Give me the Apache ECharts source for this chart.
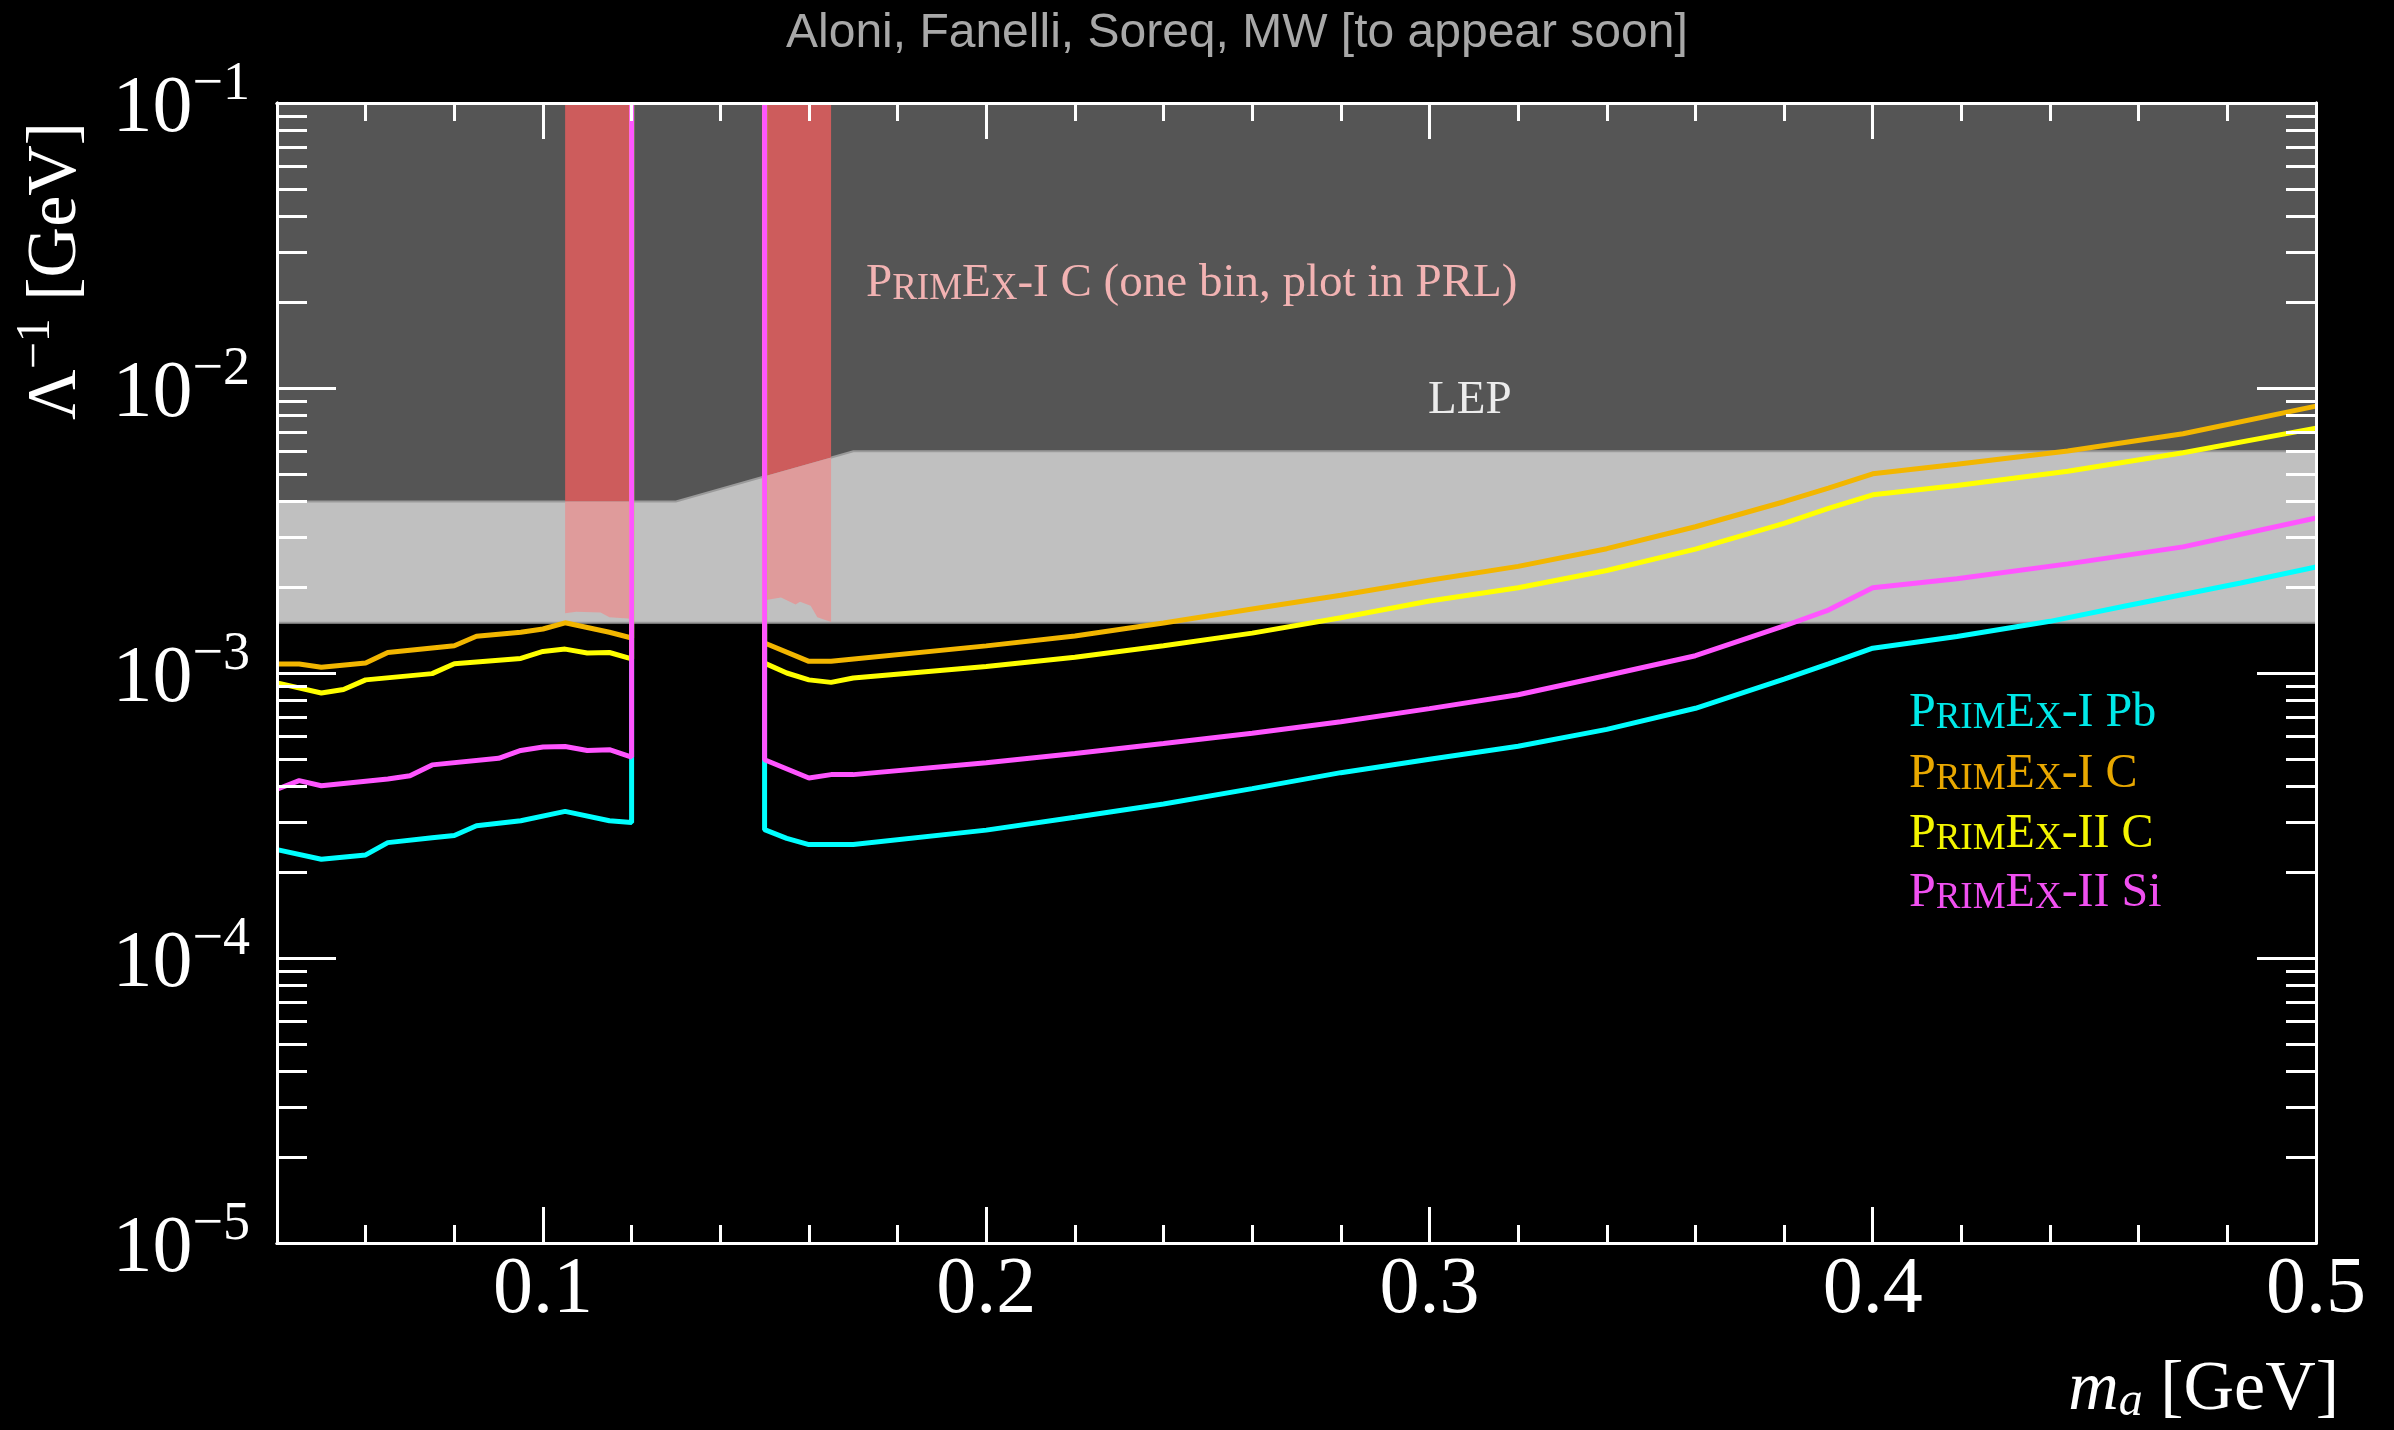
<!DOCTYPE html>
<html>
<head>
<meta charset="utf-8">
<title>PrimEx ALP reach</title>
<script src="https://cdn.jsdelivr.net/npm/echarts@6.0.0/dist/echarts.min.js"></script>
<style>
    html, body { margin: 0; padding: 0; background: #000; }
    #main { width: 2394px; height: 1430px; }
</style>
</head>
<body>
<div id="main"></div>
<script>
    // axis ticks
    var xMajorTicks = [0.1, 0.2, 0.3, 0.4, 0.5];
    var xMinorTicks = [0.06, 0.08, 0.12, 0.14, 0.16, 0.18, 0.22, 0.24, 0.26, 0.28,
                       0.32, 0.34, 0.36, 0.38, 0.42, 0.44, 0.46, 0.48];
    var yMajorTicks = [1e-5, 1e-4, 1e-3, 1e-2, 1e-1];
    var yMinorTicks = [];
    [1e-5, 1e-4, 1e-3, 1e-2].forEach(function (d) {
        for (var m = 2; m <= 9; m++) yMinorTicks.push(m * d);
    });

    // curves: [m_a GeV, 1/Lambda GeV^-1]
    var pbLeft = [[0.04, 2.40e-4], [0.05, 2.22e-4], [0.06, 2.30e-4], [0.065, 2.54e-4], [0.075, 2.64e-4],
                  [0.08, 2.69e-4], [0.085, 2.91e-4], [0.095, 3.03e-4], [0.105, 3.27e-4], [0.115, 3.03e-4],
                  [0.12, 2.99e-4], [0.12, 0.1]];
    var pbRight = [[0.15, 0.1], [0.15, 2.82e-4], [0.155, 2.63e-4], [0.16, 2.50e-4], [0.17, 2.50e-4],
                   [0.2, 2.81e-4], [0.22, 3.12e-4], [0.24, 3.47e-4], [0.26, 3.93e-4], [0.28, 4.47e-4],
                   [0.3, 4.98e-4], [0.32, 5.53e-4], [0.34, 6.34e-4], [0.36, 7.52e-4], [0.38, 9.51e-4],
                   [0.39, 1.076e-3], [0.4, 1.222e-3], [0.419, 1.342e-3], [0.44, 1.518e-3], [0.457, 1.718e-3],
                   [0.483, 2.07e-3], [0.5, 2.356e-3]];

    var c1Left = [[0.04, 1.076e-3], [0.045, 1.076e-3], [0.05, 1.047e-3], [0.06, 1.084e-3], [0.065, 1.18e-3],
                  [0.08, 1.247e-3], [0.085, 1.345e-3], [0.095, 1.39e-3], [0.1, 1.427e-3], [0.105, 1.50e-3],
                  [0.115, 1.39e-3], [0.12, 1.327e-3], [0.12, 0.1]];
    var c1Right = [[0.15, 0.1], [0.15, 1.274e-3], [0.16, 1.099e-3], [0.165, 1.099e-3], [0.2, 1.245e-3],
                   [0.22, 1.349e-3], [0.24, 1.497e-3], [0.26, 1.678e-3], [0.28, 1.874e-3], [0.3, 2.115e-3],
                   [0.32, 2.367e-3], [0.34, 2.73e-3], [0.36, 3.26e-3], [0.38, 3.99e-3], [0.39, 4.45e-3],
                   [0.4, 5.0e-3], [0.419, 5.40e-3], [0.444, 6.01e-3], [0.47, 6.91e-3], [0.5, 8.64e-3]];

    var c2Left = [[0.04, 9.23e-4], [0.05, 8.51e-4], [0.055, 8.75e-4], [0.06, 9.46e-4], [0.075, 9.95e-4],
                  [0.08, 1.078e-3], [0.095, 1.125e-3], [0.1, 1.19e-3], [0.105, 1.213e-3], [0.11, 1.175e-3],
                  [0.115, 1.18e-3], [0.12, 1.12e-3], [0.12, 0.1]];
    var c2Right = [[0.15, 0.1], [0.15, 1.083e-3], [0.155, 1.0e-3], [0.16, 9.46e-4], [0.165, 9.27e-4],
                   [0.17, 9.6e-4], [0.2, 1.053e-3], [0.22, 1.135e-3], [0.24, 1.247e-3], [0.26, 1.380e-3],
                   [0.28, 1.563e-3], [0.3, 1.79e-3], [0.32, 1.99e-3], [0.34, 2.29e-3], [0.36, 2.72e-3],
                   [0.38, 3.35e-3], [0.39, 3.78e-3], [0.4, 4.22e-3], [0.419, 4.55e-3], [0.444, 5.10e-3],
                   [0.47, 5.93e-3], [0.5, 7.23e-3]];

    var siLeft = [[0.04, 3.91e-4], [0.045, 4.19e-4], [0.05, 4.02e-4], [0.065, 4.25e-4], [0.07, 4.36e-4],
                  [0.075, 4.76e-4], [0.09, 5.02e-4], [0.095, 5.35e-4], [0.1, 5.50e-4], [0.105, 5.52e-4],
                  [0.11, 5.35e-4], [0.115, 5.38e-4], [0.12, 5.07e-4], [0.12, 0.1]];
    var siRight = [[0.15, 0.1], [0.15, 4.96e-4], [0.16, 4.28e-4], [0.165, 4.40e-4], [0.17, 4.40e-4],
                   [0.2, 4.84e-4], [0.22, 5.22e-4], [0.24, 5.66e-4], [0.26, 6.15e-4], [0.28, 6.74e-4],
                   [0.3, 7.5e-4], [0.32, 8.39e-4], [0.34, 9.80e-4], [0.36, 1.150e-3], [0.38, 1.462e-3],
                   [0.39, 1.663e-3], [0.4, 1.99e-3], [0.419, 2.14e-3], [0.444, 2.415e-3], [0.47, 2.77e-3],
                   [0.5, 3.50e-3]];

    // excluded regions
    var lepBox = [[0.04, 1.5e-3], [0.5, 1.5e-3], [0.5, 0.1], [0.04, 0.1]];
    var lightBand = [[0.04, 1.5e-3], [0.5, 1.5e-3], [0.5, 6e-3], [0.17, 6e-3], [0.13, 4e-3], [0.04, 4e-3]];
    var binDark1 = [[0.105, 4e-3], [0.12, 4e-3], [0.12, 0.1], [0.105, 0.1]];
    var binDark2 = [[0.15, 4.9e-3], [0.165, 5.7e-3], [0.165, 0.1], [0.15, 0.1]];
    var binLight1 = [[0.105, 1.62e-3], [0.1075, 1.64e-3], [0.113, 1.63e-3], [0.115, 1.57e-3], [0.12, 1.55e-3],
                     [0.12, 4e-3], [0.105, 4e-3]];
    var binLight2 = [[0.15, 1.80e-3], [0.1537, 1.84e-3], [0.157, 1.74e-3], [0.158, 1.78e-3], [0.1604, 1.72e-3],
                     [0.1619, 1.57e-3], [0.165, 1.51e-3], [0.165, 5.7e-3], [0.15, 4.9e-3]];

    var white = '#ffffff';
    var serif = 'Liberation Serif';

    function fill(points, color, stroke) {
        return {
            type: 'custom',
            silent: true,
            clip: true,
            z: 1,
            data: [[0.1, 0.01]],
            renderItem: function (params, api) {
                return {
                    type: 'polygon',
                    shape: { points: points.map(function (p) { return api.coord(p); }) },
                    style: { fill: color, stroke: stroke || null, lineWidth: stroke ? 2 : 0 }
                };
            }
        };
    }

    function curve(data, color) {
        return {
            type: 'line',
            data: data,
            symbol: 'none',
            showSymbol: false,
            silent: true,
            clip: true,
            z: 3,
            lineStyle: { color: color, width: 5 },
            itemStyle: { color: color }
        };
    }

    function xAxisDef(pos, ticks, len, labels) {
        return {
            type: 'value', position: pos, min: 0.04, max: 0.5, z: 5,
            axisLine: { show: true, onZero: false, lineStyle: { color: white, width: 3 } },
            axisTick: { show: true, inside: true, length: len, customValues: ticks,
                        lineStyle: { color: white, width: 3 } },
            axisLabel: labels ? {
                show: true, customValues: xMajorTicks, margin: 8, color: white,
                fontFamily: serif, fontSize: 80, lineHeight: 80,
                formatter: function (v) { return v.toFixed(1); }
            } : { show: false },
            splitLine: { show: false }
        };
    }

    function yAxisDef(pos, ticks, len, labels) {
        return {
            type: 'log', logBase: 10, position: pos, min: 1e-5, max: 1e-1, z: 5,
            axisLine: { show: true, onZero: false, lineStyle: { color: white, width: 3 } },
            axisTick: { show: true, inside: true, length: len, customValues: ticks,
                        lineStyle: { color: white, width: 3 } },
            axisLabel: labels ? {
                show: true, customValues: yMajorTicks, margin: 27, padding: [14, 0, 0, 0],
                formatter: function (v) {
                    return '{b|10}{s|\u2212' + Math.round(-Math.log10(v)) + '}';
                },
                rich: {
                    b: { fontFamily: serif, fontSize: 80, lineHeight: 104, color: white },
                    s: { fontFamily: serif, fontSize: 54, lineHeight: 54, color: white, verticalAlign: 'top' }
                }
            } : { show: false },
            splitLine: { show: false }
        };
    }

    function scRich(size) {
        return {
            P: { fontFamily: serif, fontSize: size, lineHeight: size, verticalAlign: 'bottom' },
            c: { fontFamily: serif, fontSize: Math.round(size * 0.78), lineHeight: Math.round(size * 0.78), verticalAlign: 'bottom' }
        };
    }

    function legendText(y, rest, color) {
        return {
            type: 'text', x: 1909, y: y, z: 10, silent: true,
            style: {
                text: '{P|P}{c|RIM}{P|E}{c|X}{P|' + rest + '}',
                fill: color, textAlign: 'left', textVerticalAlign: 'middle', rich: scRich(48)
            }
        };
    }

    var chart = echarts.init(document.getElementById('main'));
    chart.setOption({
        backgroundColor: '#000000',
        animation: false,
        title: {
            text: 'Aloni, Fanelli, Soreq, MW [to appear soon]',
            left: 786, top: 10, padding: 0,
            textStyle: { color: '#a8a8a8', fontSize: 48, fontWeight: 'normal', fontFamily: 'Liberation Sans' }
        },
        grid: { left: 277, right: 78, top: 103, bottom: 187 },
        xAxis: [
            xAxisDef('bottom', xMajorTicks, 36, true),
            xAxisDef('bottom', xMinorTicks, 18, false),
            xAxisDef('top', xMajorTicks, 36, false),
            xAxisDef('top', xMinorTicks, 18, false)
        ],
        yAxis: [
            yAxisDef('left', yMajorTicks, 59, true),
            yAxisDef('left', yMinorTicks, 30, false),
            yAxisDef('right', yMajorTicks, 59, false),
            yAxisDef('right', yMinorTicks, 30, false)
        ],
        series: [
            fill(lepBox, '#555555'),
            fill(lightBand, '#c0c0c0', '#9a9a9a'),
            fill(binDark1, '#cd5c5c'),
            fill(binDark2, '#cd5c5c'),
            fill(binLight1, '#df9b9b'),
            fill(binLight2, '#df9b9b'),
            curve(pbLeft, '#00ffff'),
            curve(pbRight, '#00ffff'),
            curve(c1Left, '#f2b600'),
            curve(c1Right, '#f2b600'),
            curve(c2Left, '#ffff00'),
            curve(c2Right, '#ffff00'),
            curve(siLeft, '#ff55ff'),
            curve(siRight, '#ff55ff')
        ],
        graphic: [
            {
                type: 'text', x: 57, y: 271, rotation: Math.PI / 2, silent: true,
                style: {
                    text: '{l|\u039b}{s|\u22121}{l| [GeV]}',
                    fill: white, textAlign: 'center', textVerticalAlign: 'middle',
                    rich: {
                        l: { fontFamily: serif, fontSize: 70, lineHeight: 90 },
                        s: { fontFamily: serif, fontSize: 48, lineHeight: 48, verticalAlign: 'top' }
                    }
                }
            },
            {
                type: 'text', x: 2339, y: 1391, silent: true,
                style: {
                    text: '{m|m}{a|a}{l| [GeV]}',
                    fill: white, textAlign: 'right', textVerticalAlign: 'middle',
                    rich: {
                        m: { fontFamily: serif, fontStyle: 'italic', fontSize: 70, lineHeight: 70 },
                        a: { fontFamily: serif, fontStyle: 'italic', fontSize: 48, lineHeight: 48, verticalAlign: 'bottom' },
                        l: { fontFamily: serif, fontSize: 70, lineHeight: 70 }
                    }
                }
            },
            {
                type: 'text', x: 866, y: 284, z: 10, silent: true,
                style: {
                    text: '{P|P}{c|RIM}{P|E}{c|X}{P|-I C (one bin, plot in PRL)}',
                    fill: '#f2b3b3', textAlign: 'left', textVerticalAlign: 'middle', rich: scRich(47)
                }
            },
            {
                type: 'text', x: 1428, y: 401, z: 10, silent: true,
                style: { text: 'LEP', fill: '#ececec', font: '47px "Liberation Serif"',
                         textAlign: 'left', textVerticalAlign: 'middle' }
            },
            legendText(713, '-I Pb', '#00e8e8'),
            legendText(774, '-I C', '#e8a800'),
            legendText(834, '-II C', '#f4f400'),
            legendText(893, '-II Si', '#f050f0')
        ]
    });
    window.onresize = chart.resize;
</script>
</body>
</html>
